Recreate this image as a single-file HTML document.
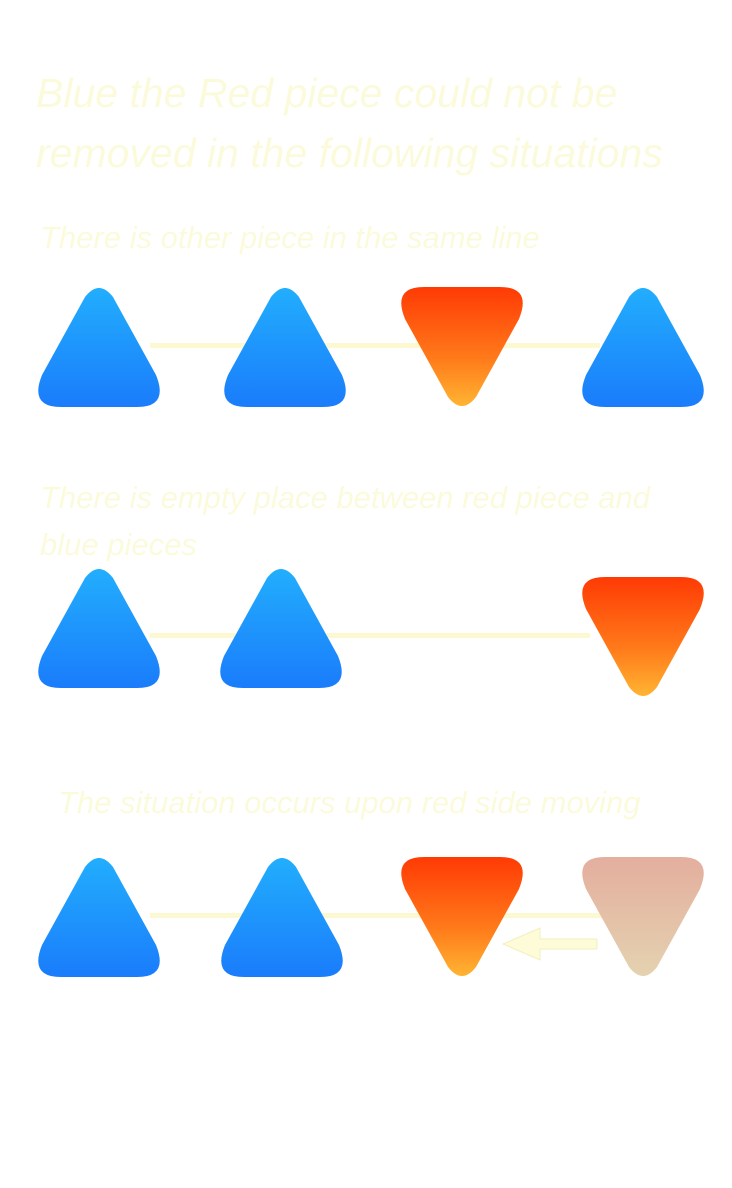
<!DOCTYPE html>
<html><head><meta charset="utf-8"><style>
html,body{margin:0;padding:0;background:#fff;width:732px;height:1188px;overflow:hidden}
svg{display:block}
text{font-family:"Liberation Sans","DejaVu Sans",sans-serif;font-style:italic;fill:#fbfbdc}
</style></head><body>
<svg width="732" height="1188" viewBox="0 0 732 1188">
<defs>
<linearGradient id="blue" x1="0" y1="0" x2="0" y2="1"><stop offset="0" stop-color="#22aefd"/><stop offset="1" stop-color="#1a7cfb"/></linearGradient>
<linearGradient id="red" x1="0" y1="0" x2="0" y2="1"><stop offset="0" stop-color="#ff3a05"/><stop offset="0.6" stop-color="#ff7a1a"/><stop offset="1" stop-color="#ffb432"/></linearGradient>
<linearGradient id="fade" x1="0" y1="0" x2="0" y2="1"><stop offset="0" stop-color="#e4ae9e"/><stop offset="1" stop-color="#e4d2b0"/></linearGradient>
</defs>
<text x="36" y="107" font-size="41">Blue the Red piece could not be</text>
<text x="36" y="167" font-size="41">removed in the following situations</text>
<text x="40" y="248" font-size="31">There is other piece in the same line</text>
<text x="40" y="508" font-size="31">There  is empty place between red piece and</text>
<text x="40" y="555" font-size="31">blue pieces</text>
<text x="58" y="813" font-size="31">The situation occurs upon red side moving</text>
<g fill="#fcf8d2">
<rect x="150" y="343" width="450" height="5"/>
<rect x="150" y="633" width="440" height="5"/>
<rect x="150" y="913" width="492" height="5"/>
</g>
<g id="pieces"></g>
<path d="M597 939 L540 939 L540 928 L503 944 L540 960 L540 949 L597 949 Z" fill="#fdfbd8" stroke="#f3efc0" stroke-width="1"/>
</svg>
<script>
const pieces=[
 ['up',99,287,'blue'],['up',285,287,'blue'],['down',462,287,'red'],['up',643,287,'blue'],
 ['up',99,568,'blue'],['up',281,568,'blue'],['down',643,577,'red'],
 ['up',99,857,'blue'],['up',282,857,'blue'],['down',462,857,'red'],['down',643,857,'fade']
];
const g=document.getElementById('pieces');
pieces.forEach(function(p,i){
 const cx=p[1],y0=p[2],y1=y0+120;let d;
 if(p[0]==='up'){
  d=`M${cx-14},${y0+10} Q${cx},${y0-8} ${cx+14},${y0+10} L${cx+57},${y1-32} Q${cx+70},${y1} ${cx+38},${y1} L${cx-38},${y1} Q${cx-70},${y1} ${cx-57},${y1-32} Z`;
 }else{
  d=`M${cx-38},${y0} L${cx+38},${y0} Q${cx+70},${y0} ${cx+57},${y0+32} L${cx+14},${y1-10} Q${cx},${y1+8} ${cx-14},${y1-10} L${cx-57},${y0+32} Q${cx-70},${y0} ${cx-38},${y0} Z`;
 }
 const el=document.createElementNS('http://www.w3.org/2000/svg','path');
 el.setAttribute('d',d);
 el.setAttribute('fill','url(#'+p[3]+')');
 
 
 g.appendChild(el);
});
</script>
</body></html>
